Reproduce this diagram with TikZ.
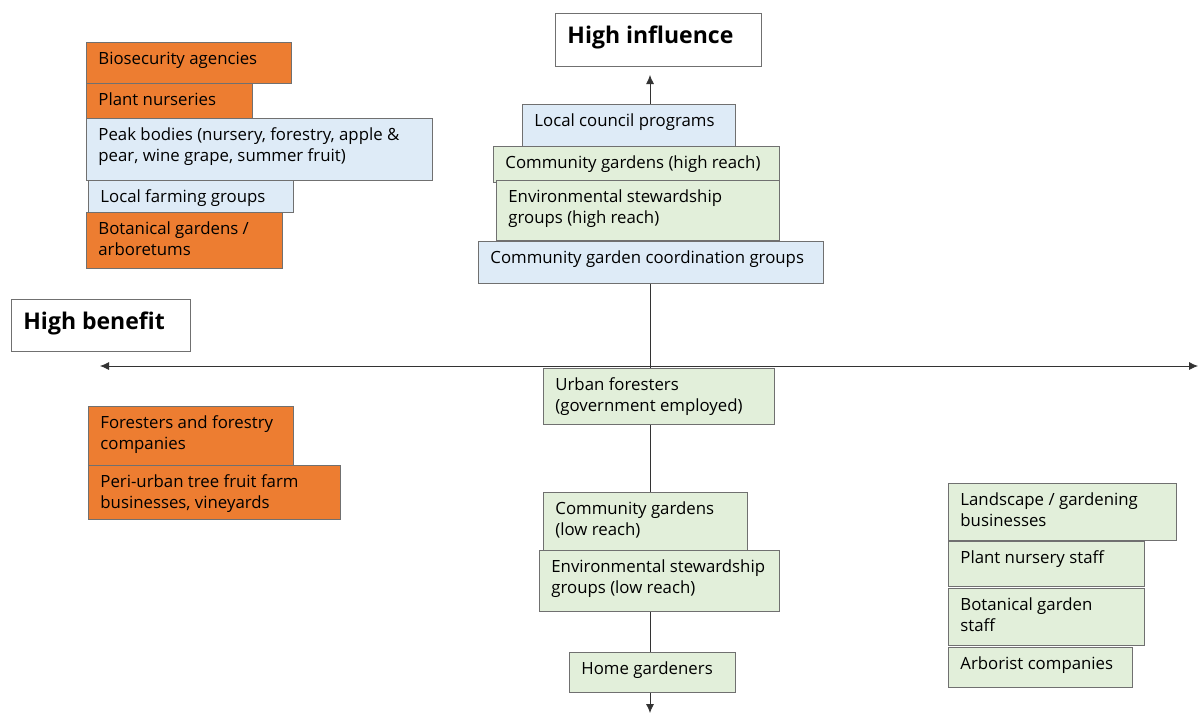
\documentclass[tikz,border=0pt]{standalone}
\usepackage{fontspec}
\setmainfont{Open Sans}
\usetikzlibrary{arrows.meta}
\definecolor{stakeorange}{HTML}{ED7D31}
\definecolor{stakeblue}{HTML}{DEEBF7}
\definecolor{stakegreen}{HTML}{E2EFDA}
\definecolor{edgegrey}{HTML}{707070}
% fixed size box, text in the top left corner
\newcommand{\boxtext}[3]{\parbox[t][\dimexpr#2pt-19pt\relax][t]{\dimexpr#1pt-24pt\relax}{\raggedright #3}}
\tikzset{
  stake/.style={draw=edgegrey, line width=0.8pt, anchor=north west, inner xsep=12pt, inner ysep=9.5pt,
    font=\fontsize{16.8}{21}\selectfont},
  heading/.style={stake, fill=white, inner ysep=12.5pt, font=\fontsize{23}{27}\bfseries},
  axis/.style={black!80, line width=0.8pt, {Latex[length=9pt,width=8pt]}-{Latex[length=9pt,width=8pt]}}
}
\begin{document}
\begin{tikzpicture}[x=1pt,y=-1pt]
  \useasboundingbox (0,0) rectangle (1198,713);
  %% axes
  \coordinate (up) at (650,75);
  \coordinate (down) at (650,713);
  \coordinate (leftend) at (100,366);
  \coordinate (rightend) at (1198,366);
  \draw[axis] (down) -- (up);
  \draw[axis] (leftend) -- (rightend);
  %% axis labels
  \node[heading] (influence) at (555,13) {\boxtext{206}{47}{High influence}};
  \node[heading] (benefit) at (11,299) {\boxtext{179}{46}{High benefit}};
  %% stakeholders
  \foreach \n/\x/\y/\w/\h/\c/\t in {
      bio/86/42/205/41/orange/Biosecurity agencies,
      nurs/86/83/166/35/orange/Plant nurseries,
      peak/86/118/346/62/blue/{Peak bodies (nursery, forestry, apple \&\\pear, wine grape, summer fruit)},
      farm/88/180/205/32/blue/Local farming groups,
      botg/86/212/196/56/orange/{Botanical gardens /\\arboretums},
      council/522/104/213/42/blue/Local council programs,
      cghigh/493/146/286/36/green/Community gardens (high reach),
      eshigh/496/180/283/60/green/{Environmental stewardship\\groups (high reach)},
      cgcoord/478/241/345/42/blue/Community garden coordination groups,
      urban/543/368/231/56/green/{Urban foresters\\(government employed)},
      cglow/543/492/204/58/green/{Community gardens\\(low reach)},
      eslow/539/550/240/61/green/{Environmental stewardship\\groups (low reach)},
      home/569/652/166/40/green/Home gardeners,
      forest/88/406/205/62/orange/{Foresters and forestry\\companies},
      peri/88/465/252/54/orange/{Peri-urban tree fruit farm\\businesses, vineyards},
      land/948/483/228/57/green/{Landscape / gardening\\businesses},
      pnstaff/948/541/196/45/green/Plant nursery staff,
      bgstaff/948/588/196/57/green/{Botanical garden\\staff},
      arbor/948/647/184/40/green/Arborist companies}
    \node[stake, fill=stake\c] (\n) at (\x,\y) {\boxtext{\w}{\h}{\t}};
\end{tikzpicture}
\end{document}
